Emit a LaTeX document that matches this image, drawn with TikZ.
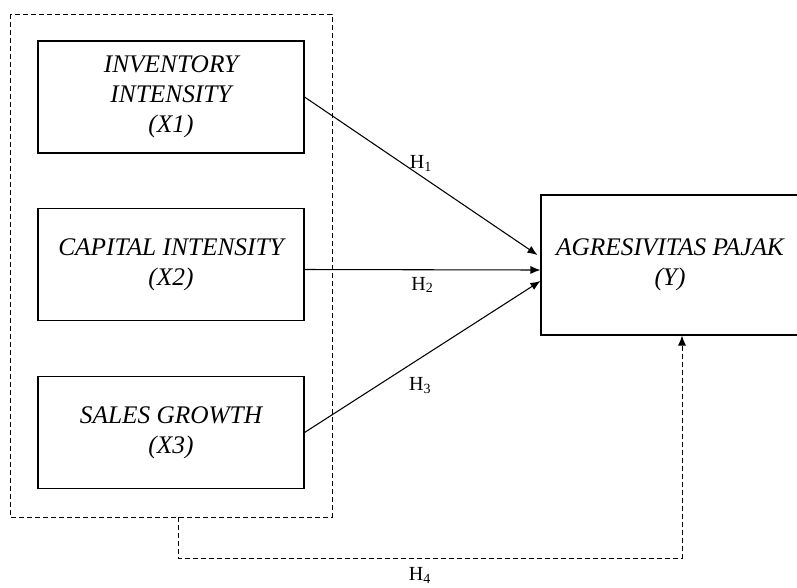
\documentclass[tikz,border=0pt]{standalone}
\usepackage{fontspec}
\setmainfont{Liberation Serif}
\usepackage{tikz}
\usetikzlibrary{calc, arrows.meta, positioning}
\tikzset{>={Latex[length=7.5pt,width=6pt]}}
\tikzset{varbox/.style = {draw, line width=0.8pt, inner sep=0pt, align=center,
    minimum width=199.5pt, minimum height=84pt,
    font=\fontsize{19}{22.5}\selectfont\itshape}}
\tikzset{hlabel/.style = {font=\fontsize{15}{18}\selectfont, inner sep=1pt}}
\tikzset{grpline/.style = {line width=0.7pt, dash pattern=on 3.5pt off 2.5pt}}

\begin{document}
\begin{tikzpicture}[x=0.75pt, y=-0.75pt]
\useasboundingbox (0,0) rectangle (797,587);
% variables X
\node[varbox] (invent) at (171, 97) {INVENTORY\\INTENSITY\\(X1)};
\node[varbox] (capital) at (171, 264.5) {CAPITAL INTENSITY\\(X2)};
\node[varbox] (sales) at (171, 432.5) {SALES GROWTH\\(X3)};
% variable Y
\node[varbox, minimum width=193.5pt, minimum height=105pt] (agres) at (670, 265) {AGRESIVITAS PAJAK\\(Y)};
% group of X
\draw[grpline] (10, 14) rectangle (332, 517);
\coordinate (grpS) at (178, 517);
% hypotheses
\draw[->, line width=0.8pt] (invent.east) -- ($(agres.west)+(-3,-10)$) node[hlabel, above = 2pt, pos = 0.5] {H\textsubscript{1}};
\draw[->, line width=0.8pt] ([yshift=-3.75pt]capital.east) -- ([yshift=-3.75pt]agres.west) node[hlabel, below = 4pt, pos = 0.5] {H\textsubscript{2}};
\draw[->, line width=0.8pt] (sales.east) -- ([yshift=-12pt]agres.west) node[hlabel, below = 13pt, pos = 0.49] {H\textsubscript{3}};
\draw[->, grpline] (grpS) -- (178, 558) -- node[hlabel, below = 6pt, pos = 0.48] {H\textsubscript{4}} (682, 558) -- (agres.south -| 682, 0);
\end{tikzpicture}
\end{document}
